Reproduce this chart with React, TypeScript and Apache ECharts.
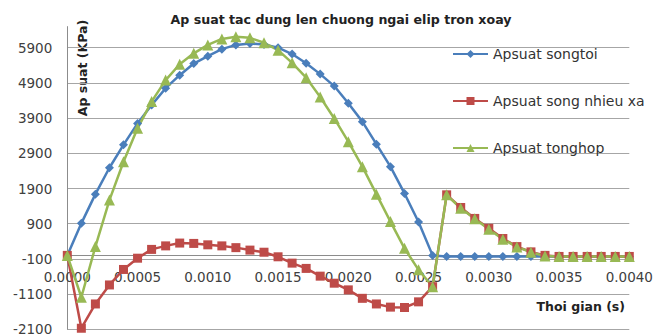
import React, { useEffect, useRef } from "react";
import * as echarts from "echarts";

const timeSteps: number[] = [
  0, 0.0001, 0.0002, 0.0003, 0.0004, 0.0005, 0.0006, 0.0007, 0.0008, 0.0009,
  0.001, 0.0011, 0.0012, 0.0013, 0.0014, 0.0015, 0.0016, 0.0017, 0.0018, 0.0019,
  0.002, 0.0021, 0.0022, 0.0023, 0.0024, 0.0025, 0.0026, 0.0027, 0.0028, 0.0029,
  0.003, 0.0031, 0.0032, 0.0033, 0.0034, 0.0035, 0.0036, 0.0037, 0.0038, 0.0039,
  0.004,
];

const songToi: number[] = [
  0, 910, 1740, 2490, 3140, 3750, 4270, 4750, 5120, 5450,
  5660, 5860, 5980, 6020, 5990, 5900, 5720, 5460, 5150, 4810,
  4320, 3800, 3160, 2520, 1760, 950, 0, -30, -30, -30,
  -30, -30, -30, -30, -30, -30, -30, -30, -30, -30,
  -30,
];

const songNhieuXa: number[] = [
  0, -2070, -1380, -840, -400, -80, 170, 270, 350, 340,
  300, 270, 220, 150, 90, -40, -220, -370, -590, -790,
  -980, -1220, -1380, -1470, -1480, -1320, -890, 1720, 1360, 1050,
  770, 480, 250, 100, 0, -30, -30, -30, -30, -30,
  -30,
];

const tongHop: number[] = [
  0, -1190, 250, 1570, 2660, 3610, 4370, 4980, 5430, 5740,
  5980, 6150, 6210, 6180, 6040, 5830, 5470, 5050, 4500, 3890,
  3230, 2520, 1740, 960, 200, -410, -890, 1720, 1340, 1040,
  740, 460, 240, 90, -20, -30, -30, -30, -30, -30,
  -30,
];

const yTicks: number[] = [-2100, -1100, -100, 900, 1900, 2900, 3900, 4900, 5900];
const Y_MIN = -2100;
const Y_MAX = 6500;
const seriesNames: string[] = ["Apsuat songtoi", "Apsuat song nhieu xa", "Apsuat tonghop"];
const titleText = "Ap suat tac dung len chuong ngai elip tron xoay";
const yName = "Ap suat (KPa)";
const xName = "Thoi gian (s)";

const FONT = "DejaVu Sans";
const GRID_COLOR = "#a6a6a6";
const CHART_H = 336;
const GRID_TOP = 26.6;
const GRID_BOTTOM = 6.7;

export default function App() {
  const ref = useRef<HTMLDivElement>(null);

  useEffect(() => {
    if (!ref.current) return;
    const chart = echarts.init(ref.current, null, { renderer: "svg" });
    const toPairs = (vals: number[]) => timeSteps.map((t, i) => [t, vals[i]]);
    const splitColors = yTicks.map(() => GRID_COLOR).concat(["rgba(0,0,0,0)"]);
    const plotH = CHART_H - GRID_TOP - GRID_BOTTOM;
    // move the horizontal axis up to the y = 0 position
    const zeroOffset = -((0 - Y_MIN) / (Y_MAX - Y_MIN)) * plotH;

    const lineSeries = (name: string, vals: number[], color: string, symbol: string, size: number) => ({
      type: "line",
      name,
      data: toPairs(vals),
      symbol,
      symbolSize: size,
      showAllSymbol: true,
      lineStyle: { color, width: 2.5 },
      itemStyle: { color, borderWidth: 0 },
      emphasis: { disabled: true },
      clip: false,
    });

    chart.setOption({
      animation: false,
      textStyle: { fontFamily: FONT },
      grid: {
        left: 67.3,
        right: 24.7,
        top: GRID_TOP,
        bottom: GRID_BOTTOM,
        containLabel: false,
        outerBoundsMode: "none",
      },
      xAxis: {
        type: "value",
        min: 0,
        max: 0.004,
        interval: 0.0005,
        position: "bottom",
        offset: zeroOffset,
        axisLine: { show: true, onZero: false, lineStyle: { color: "#8c8c8c", width: 1 } },
        axisTick: { show: false },
        splitLine: { show: false },
        axisLabel: {
          margin: 15,
          fontFamily: FONT,
          fontSize: 13.5,
          color: "#404040",
          formatter: (v: number) => v.toFixed(4),
        },
      },
      yAxis: {
        type: "value",
        min: Y_MIN,
        max: Y_MAX,
        interval: 1000,
        axisLine: { show: true, onZero: false, lineStyle: { color: "#8c8c8c", width: 1 } },
        axisTick: { show: false },
        splitLine: { show: true, lineStyle: { color: splitColors, width: 1 } },
        axisLabel: {
          margin: 15,
          fontFamily: FONT,
          fontSize: 13.5,
          color: "#404040",
          formatter: (v: number) => (yTicks.indexOf(Math.round(v)) >= 0 ? String(Math.round(v)) : ""),
        },
      },
      legend: {
        orient: "vertical",
        left: 452,
        top: 46,
        padding: 0,
        itemWidth: 35,
        itemHeight: 10,
        itemGap: 31,
        textStyle: { fontFamily: FONT, fontSize: 14, color: "#333", lineHeight: 16 },
        data: seriesNames,
        selectedMode: false,
      },
      series: [
        lineSeries(seriesNames[0], songToi, "#4a7ebb", "diamond", 9),
        lineSeries(seriesNames[1], songNhieuXa, "#be4b48", "rect", 9),
        lineSeries(seriesNames[2], tongHop, "#98b954", "triangle", 11),
      ],
      graphic: [
        {
          type: "text",
          x: 341,
          y: 19,
          style: {
            text: titleText,
            fontFamily: FONT,
            fontWeight: "bold",
            fontSize: 12.6,
            fill: "#222",
            textAlign: "center",
            textVerticalAlign: "middle",
          },
        },
        {
          type: "text",
          x: 82,
          y: 68,
          rotation: Math.PI / 2,
          style: {
            text: yName,
            fontFamily: FONT,
            fontWeight: "bold",
            fontSize: 12.5,
            fill: "#222",
            textAlign: "center",
            textVerticalAlign: "middle",
          },
        },
        {
          type: "text",
          x: 625,
          y: 306,
          style: {
            text: xName,
            fontFamily: FONT,
            fontWeight: "bold",
            fontSize: 12.5,
            fill: "#222",
            textAlign: "right",
            textVerticalAlign: "middle",
          },
        },
      ],
    });
    return () => chart.dispose();
  }, []);

  return (
    <div
      ref={ref}
      style={{ position: "fixed", left: 0, top: 0, width: 654, height: 336, background: "#fff" }}
    />
  );
}
